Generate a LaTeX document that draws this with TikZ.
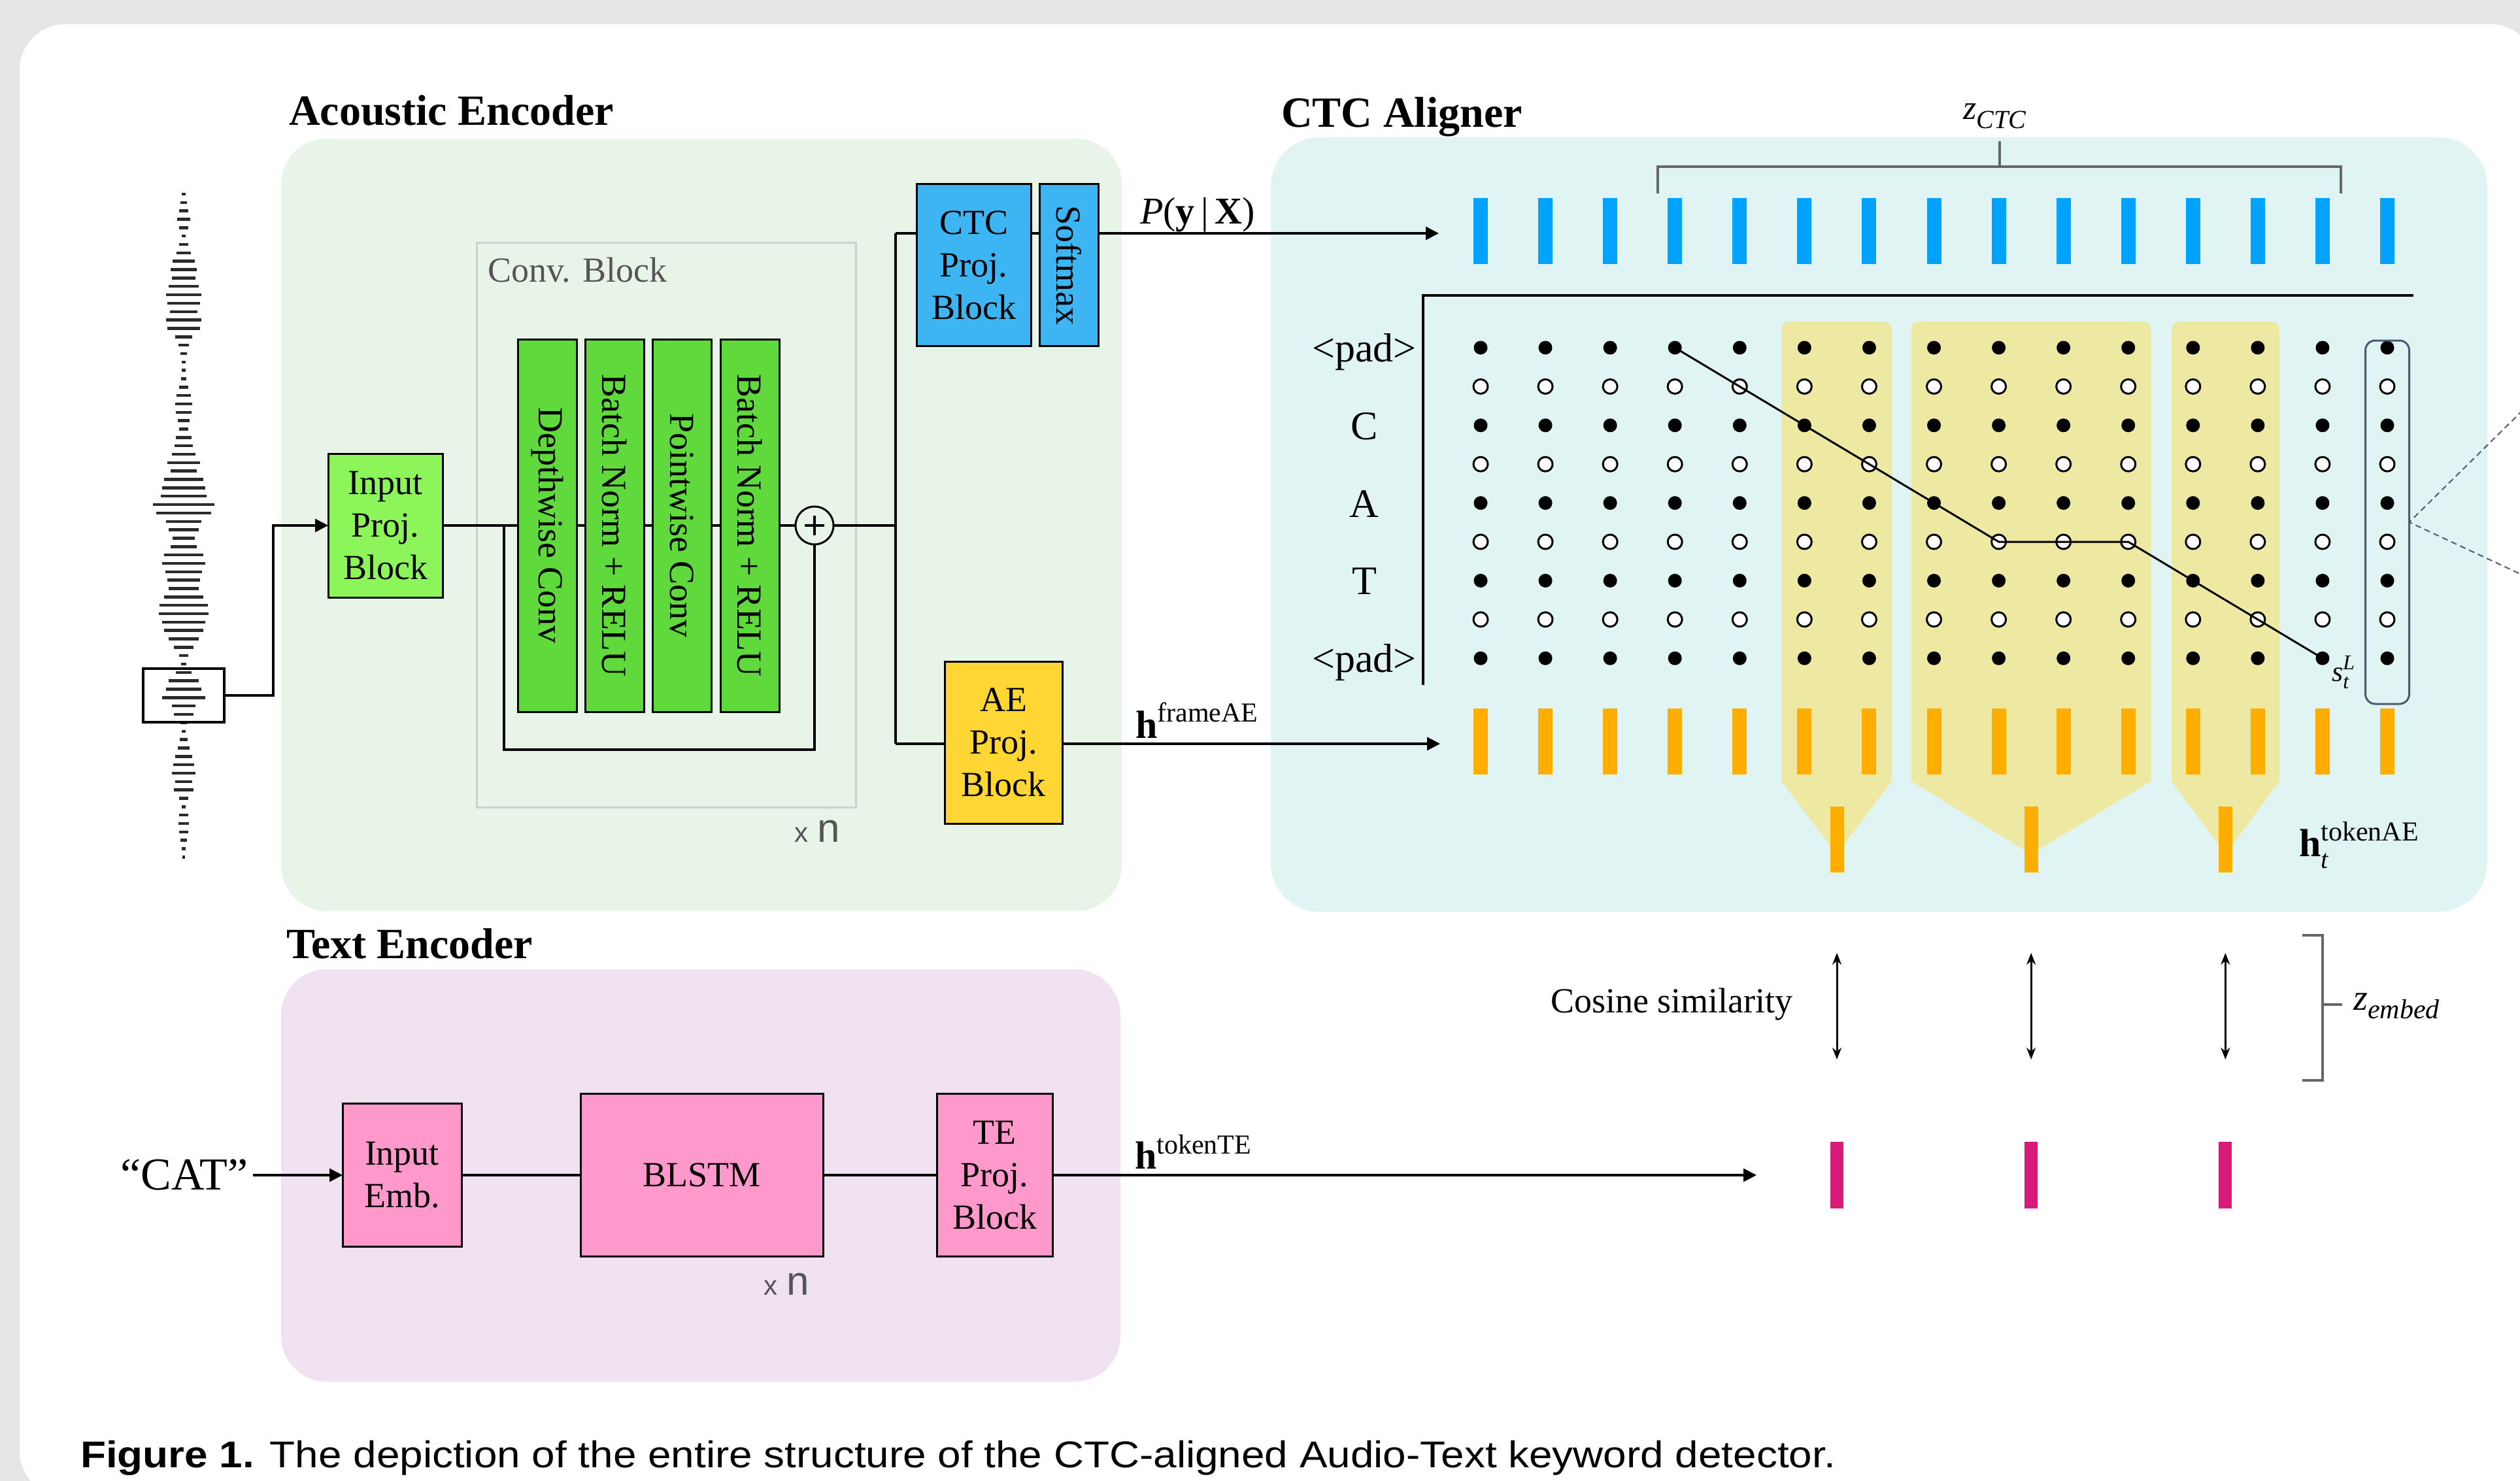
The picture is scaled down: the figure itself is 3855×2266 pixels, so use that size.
\documentclass[tikz,border=0pt]{standalone}
\usepackage{fontspec}
\setmainfont{Liberation Serif}
\newfontfamily\arialf{Liberation Sans}
\usetikzlibrary{arrows.meta,calc}
\newcommand\fsz[2]{\fontsize{#1}{#2}\selectfont}
\definecolor{bggrey}{HTML}{E6E6E6}
\definecolor{aeReg}{HTML}{E9F4E8}
\definecolor{alReg}{HTML}{E0F4F3}
\definecolor{teReg}{HTML}{F1E2F2}
\definecolor{lgreen}{HTML}{8CF55A}
\definecolor{dgreen}{HTML}{5FD93C}
\definecolor{cblue}{HTML}{3DB5F2}
\definecolor{aeyel}{HTML}{FFD633}
\definecolor{tpink}{HTML}{FF99CC}
\definecolor{hlyel}{HTML}{EDE9A2}
\definecolor{barblue}{HTML}{00A2FF}
\definecolor{barorange}{HTML}{FFAE00}
\definecolor{barpink}{HTML}{D81B78}
\definecolor{brgrey}{HTML}{666666}
\definecolor{slate}{HTML}{4A5A70}
\definecolor{framegrey}{HTML}{D0D0D0}
\definecolor{txtgrey}{HTML}{555555}
\definecolor{wavec}{HTML}{2B2B2B}
\begin{document}
\begin{tikzpicture}[x=1pt,y=-1pt,
  blk/.style={draw=black, line width=3pt, inner sep=0pt, outer sep=0pt, align=center, font=\fsz{54}{65}},
  gbar/.style={blk, rotate=-90, minimum width=570pt, minimum height=90pt, fill=dgreen},
  conn/.style={line width=3.5pt, black},
  arr/.style={conn, -{Triangle[length=20pt,width=20pt]}},
  dbl/.style={line width=3pt, {Stealth[length=18pt,width=14pt]}-{Stealth[length=18pt,width=14pt]}},
  fdot/.style={circle, fill=black, inner sep=0pt, minimum size=21pt},
  hdot/.style={circle, draw=black, fill=white, line width=3pt, inner sep=0pt, minimum size=22pt},
  ttl/.style={anchor=base west, font=\bfseries\fsz{66}{66}, inner sep=0pt},
  lbl/.style={anchor=base west, inner sep=0pt},
  brk/.style={brgrey, line width=3.5pt},
  wave/.style={wavec, line width=4.5pt},
  rowlab/.style={anchor=base, inner sep=0pt, font=\fsz{62}{62}}
]
\useasboundingbox (0,0) rectangle (3855,2266);
\clip (0,0) rectangle (3855,2266);
% background and panel
\fill[bggrey] (0,0) rectangle (3855,2266);
\fill[white, rounded corners=70pt] (30,37) rectangle (3880,2290);
% regions
\fill[aeReg, rounded corners=70pt] (430,212) rectangle (1716,1394);
\fill[alReg, rounded corners=75pt] (1944,210) rectangle (3805,1395);
\fill[teReg, rounded corners=70pt] (430,1483) rectangle (1714,2114);
% titles
\node[ttl] (t1) at (442,192) {Acoustic Encoder};
\node[ttl] (t2) at (1960,195) {CTC Aligner};
\node[ttl] (t3) at (438,1466) {Text Encoder};
% waveform
\foreach \w [count=\k from 0] in {3,5,7,10,7,3,7,11,17,20,18,23,27,25,21,27,25,13,8,5,3,3,4,7,11,13,12,9,7,12,14,18,25,20,30,33,35,47,42,27,23,17,20,30,33,28,25,23,30,37,38,33,30,23,15,7,4,12,23,27,33,18,15,5,3,6,9,13,16,18,13,15,7,3,7,8,7,5,3,2}
  {\draw[wave] ({281-\w},{297+12.84*\k}) -- ({281+\w},{297+12.84*\k});}
\node[draw, line width=3.5pt, minimum width=124pt, minimum height=82pt, inner sep=0pt, outer sep=0pt] (wbox) at (281,1064) {};
% conv block frame
\node[draw=framegrey, line width=3pt, minimum width=580pt, minimum height=864pt, inner sep=0pt, outer sep=0pt] (convblk) at (1019,803) {};
\node[lbl, text=txtgrey, font=\fsz{54}{54}] (convlbl) at (746,431) {Conv. Block};
% acoustic encoder blocks
\node[blk, fill=lgreen, minimum width=175pt, minimum height=220pt] (inproj) at (589.5,804) {Input\\Proj.\\Block};
\node[gbar] (dw) at (837,804) {Depthwise Conv};
\node[gbar] (bn1) at (940,804) {Batch Norm + RELU};
\node[gbar] (pw) at (1043,804) {Pointwise Conv};
\node[gbar] (bn2) at (1147,804) {Batch Norm + RELU};
\node[circle, draw, line width=3pt, minimum size=58pt, inner sep=0pt, outer sep=0pt, fill=aeReg] (plus) at (1246,804) {};
\draw[line width=4pt] ($(plus.center)+(-15,0)$) -- ($(plus.center)+(15,0)$);
\draw[line width=4pt] ($(plus.center)+(0,-15)$) -- ($(plus.center)+(0,15)$);
\node[blk, fill=cblue, minimum width=175pt, minimum height=247pt] (ctc) at (1489.5,405.5) {CTC\\Proj.\\Block};
\node[blk, fill=cblue, rotate=-90, minimum width=247pt, minimum height=90pt] (sm) at (1635,405.5) {Softmax};
\node[blk, fill=aeyel, minimum width=180pt, minimum height=248pt] (ae) at (1535,1136) {AE\\Proj.\\Block};
\node[lbl, text=txtgrey] (xn1) at (1215,1288) {\arialf\fsz{42}{42}x\hspace{14pt}\fsz{62}{62}n};
% acoustic encoder connectors
\draw[arr] (wbox.east) -- (418,1064) |- (inproj.west);
\draw[conn] (inproj.east) -- (dw.south);
\draw[conn] (dw.north) -- (bn1.south);
\draw[conn] (bn1.north) -- (pw.south);
\draw[conn] (pw.north) -- (bn2.south);
\draw[conn] (bn2.north) -- (plus.west);
\coordinate (sk) at (771,804);
\draw[conn] (sk) -- (771,1147) -| (plus.south);
\coordinate (br) at (1370,804);
\coordinate (brT) at (1370,357);
\coordinate (brB) at (1370,1138);
\draw[conn] (plus.east) -- (br);
\draw[conn] (brT) -- (brB);
\draw[conn] (brT) -- (brT -| ctc.west);
\draw[conn] (ctc.east |- brT) -- (sm.south |- brT);
\coordinate (pend) at (2201,357);
\draw[arr] (sm.north |- brT) -- (pend);
\draw[conn] (brB) -- (brB -| ae.west);
\coordinate (fend) at (2203,1138);
\draw[arr] (brB -| ae.east) -- (fend);
% labels on arrows
\node[lbl] (plab) at (1744,342) {\fsz{58}{58}\textit{P}(\textbf{y}\,|\,\textbf{X})};
\node[lbl] (flab) at (1737,1129) {\fsz{60}{60}\textbf{h}\raisebox{25pt}{\fsz{42}{42}frameAE}};
% CTC aligner
\foreach \a/\b/\c in {2725/2894/2810, 2923.5/3290.7/3107.1, 3322/3487/3404.3}
  {\fill[hlyel] (\a,1195) -- (\a,517) .. controls (\a,492) .. ({\a+25},492) -- ({\b-25},492) .. controls (\b,492) .. (\b,517) -- (\b,1195) -- (\c,1307) -- cycle;}
\foreach \i in {0,...,14}{
  \fill[barblue] ({2265+99.07*\i-11},303) rectangle ++(22,101);
  \fill[barorange] ({2265+99.07*\i-11},1084) rectangle ++(22,101);
  \foreach \j in {0,2,4,6,8}{\node[fdot] (d-\i-\j) at ({2265+99.07*\i},{532+59.4*\j}) {};}
  \foreach \j in {1,3,5,7}{\node[hdot] (d-\i-\j) at ({2265+99.07*\i},{532+59.4*\j}) {};}
}
\draw[line width=3pt] (d-3-0.center) -- (d-4-1.center) -- (d-5-2.center) -- (d-6-3.center) -- (d-7-4.center) -- (d-8-5.center) -- (d-10-5.center) -- (d-11-6.center) -- (d-12-7.center) -- (d-13-8.center);
\draw[line width=3.5pt] (3692,452) -- (2177,452) -- (2177,1048);
\node[rowlab] (r0) at (2087,553) {<pad>};
\node[rowlab] (r2) at (2087,672) {C};
\node[rowlab] (r4) at (2087,791) {A};
\node[rowlab] (r6) at (2087,909) {T};
\node[rowlab] (r8) at (2087,1028) {<pad>};
\node[draw=slate, line width=3pt, rounded corners=15pt, minimum width=67pt, minimum height=556pt, inner sep=0pt, outer sep=0pt] (colbox) at (3652,799) {};
\coordinate (dz1) at (3870,617);
\coordinate (dz2) at (3870,885);
\draw[slate, line width=2pt, dash pattern=on 9pt off 6pt] (dz1) -- (colbox.east) -- (dz2);
\node[lbl] (slab) at (3567,1042) {\fsz{44}{44}\textit{s}\rlap{\raisebox{-11pt}{\fsz{32}{32}\textit{t}}}\raisebox{18pt}{\fsz{32}{32}\textit{L}}};
\draw[brk] (2536,296) -- (2536,255) -- (3581,255) -- (3581,296);
\draw[brk] (3059,255) -- (3059,216);
\node[lbl] (zctc) at (3003,183) {\fsz{52}{52}\textit{z}\raisebox{-14pt}{\fsz{40}{40}\textit{CTC}}};
\foreach \c in {2810,3107.1,3404.3}
  {\fill[barorange] ({\c-10.5},1234) rectangle ++(21,101);}
\node[lbl] (halab) at (3517,1310) {\fsz{60}{60}\textbf{h}\rlap{\raisebox{-18pt}{\fsz{40}{40}\textit{t}}}\raisebox{24pt}{\fsz{42}{42}tokenAE}};
% text encoder
\node[blk, fill=tpink, minimum width=182pt, minimum height=219pt] (emb) at (615,1798) {Input\\Emb.};
\node[blk, fill=tpink, minimum width=371pt, minimum height=249pt] (blstm) at (1073.5,1798) {BLSTM};
\node[blk, fill=tpink, minimum width=177pt, minimum height=249pt] (te) at (1521.5,1798) {TE\\Proj.\\Block};
\node[inner sep=8pt, font=\fsz{70}{70}] (cat) at (282,1798) {“CAT”};
\node[lbl, text=txtgrey] (xn2) at (1168,1981) {\arialf\fsz{42}{42}x\hspace{14pt}\fsz{62}{62}n};
\draw[arr] (cat.east) -- (emb.west);
\draw[conn] (emb.east) -- (blstm.west);
\draw[conn] (blstm.east) -- (te.west);
\coordinate (tend) at (2687,1798);
\draw[arr] (te.east) -- (tend);
\node[lbl] (tlab) at (1736,1788) {\fsz{60}{60}\textbf{h}\raisebox{23pt}{\fsz{42}{42}tokenTE}};
% cosine similarity
\node[lbl, font=\fsz{54}{54}] (cos) at (2372,1549) {Cosine similarity};
\foreach \c/\n in {2810/1,3107.1/2,3404.3/3}{
  \coordinate (ct\n) at (\c,1458);
  \coordinate (cb\n) at (\c,1621);
  \draw[dbl] (ct\n) -- (cb\n);
  \fill[barpink] ({\c-10},1747) rectangle ++(20,102);
}
\draw[brk] (3522,1431) -- (3553,1431) -- (3553,1653) -- (3522,1653);
\draw[brk] (3553,1537) -- (3583,1537);
\node[lbl] (zemb) at (3600,1545) {\fsz{56}{56}\textit{z}\raisebox{-13pt}{\fsz{42}{42}\textit{embed}}};
% caption
\node[lbl] (cap) at (123,2245) {\scalebox{1.12}[1]{\arialf\fsz{57}{66}\textbf{Figure 1.} The depiction of the entire structure of the CTC-aligned Audio-Text keyword detector.}};
\end{tikzpicture}
\end{document}
